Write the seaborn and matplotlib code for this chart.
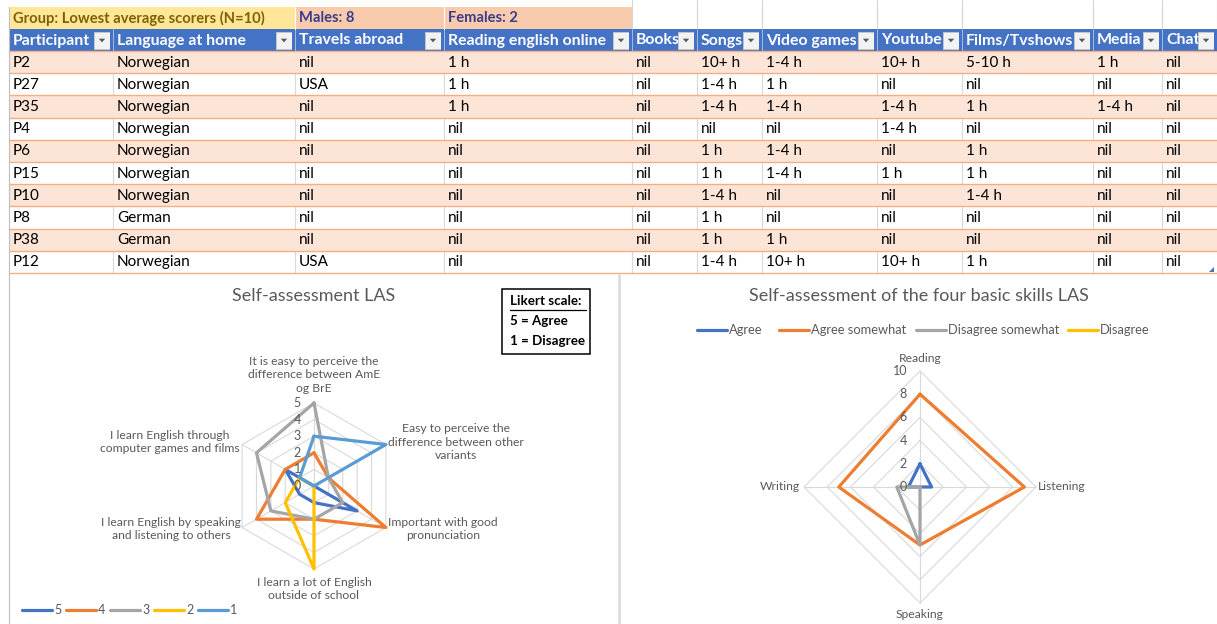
import numpy as np
import pandas as pd
import matplotlib
matplotlib.use("Agg")
import matplotlib.pyplot as plt
from matplotlib.patches import Rectangle, Polygon
import seaborn as sns

sns.set_theme(style="white")
plt.rcParams['font.family'] = ['Lato', 'DejaVu Sans']

# ---------------- table content ----------------
group_label = "Group: Lowest average scorers (N=10)"
males_label = "Males: 8"
females_label = "Females: 2"

headers = ["Participant", "Language at home", "Travels abroad", "Reading english online",
           "Books", "Songs", "Video games", "Youtube", "Films/Tvshows", "Media", "Chat"]
participants = ["P2", "P27", "P35", "P4", "P6", "P15", "P10", "P8", "P38", "P12"]
language_home = ["Norwegian", "Norwegian", "Norwegian", "Norwegian", "Norwegian",
                 "Norwegian", "Norwegian", "German", "German", "Norwegian"]
travels_abroad = ["nil", "USA", "nil", "nil", "nil", "nil", "nil", "nil", "nil", "USA"]
reading_online = ["1 h", "1 h", "1 h", "nil", "nil", "nil", "nil", "nil", "nil", "nil"]
books = ["nil", "nil", "nil", "nil", "nil", "nil", "nil", "nil", "nil", "nil"]
songs = ["10+ h", "1-4 h", "1-4 h", "nil", "1 h", "1 h", "1-4 h", "1 h", "1 h", "1-4 h"]
video_games = ["1-4 h", "1 h", "1-4 h", "nil", "1-4 h", "1-4 h", "nil", "nil", "1 h", "10+ h"]
youtube = ["10+ h", "nil", "1-4 h", "1-4 h", "nil", "1 h", "nil", "nil", "nil", "10+ h"]
films_tv = ["5-10 h", "nil", "1 h", "nil", "1 h", "1 h", "1-4 h", "nil", "nil", "1 h"]
media = ["1 h", "nil", "1-4 h", "nil", "nil", "nil", "nil", "nil", "nil", "nil"]
chat = ["nil", "nil", "nil", "nil", "nil", "nil", "nil", "nil", "nil", "nil"]

# ---------------- radar 1: Likert answers per statement ----------------
las_statements = ["It is easy to perceive the\ndifference between AmE\nog BrE",
                  "Easy to perceive the\ndifference between other\nvariants",
                  "Important with good\npronunciation",
                  "I learn a lot of English\noutside of school",
                  "I learn English by speaking\nand listening to others",
                  "I learn English through\ncomputer games and films"]
likert_levels = ["5", "4", "3", "2", "1"]
likert_5 = [0, 0, 3, 1, 1, 2]
likert_4 = [2, 1, 5, 2, 4, 2]
likert_3 = [5, 1, 2, 2, 3, 4]
likert_2 = [0, 0, 0, 5, 2, 1]
likert_1 = [3, 5, 0, 0, 0, 1]

# ---------------- radar 2: four basic skills ----------------
skills = ["Reading", "Listening", "Speaking", "Writing"]
skill_levels = ["Agree", "Agree somewhat", "Disagree somewhat", "Disagree"]
skill_agree = [2, 1, 0, 1]
skill_agree_somewhat = [8, 9, 5, 7]
skill_disagree_somewhat = [0, 0, 5, 2]
skill_disagree = [0, 0, 0, 0]

# Office palette
C_BLUE = "#4472C4"
C_ORANGE = "#ED7D31"
C_GREY = "#A5A5A5"
C_YELLOW = "#FFC000"
C_LBLUE = "#5B9BD5"
TXT_GREY = "#595959"
GRID = "#D9D9D9"

W, H = 1217, 624
fig = plt.figure(figsize=(W / 100, H / 100), dpi=100)
bg = fig.add_axes([0, 0, 1, 1], zorder=0)
bg.set_xlim(0, W)
bg.set_ylim(H, 0)
bg.axis("off")

# ---------------- spreadsheet table ----------------
col_edges = [9, 113, 295, 444, 632, 697, 762, 877, 962, 1093, 1162, 1217]
top_row = (7, 29)
head_row = (29, 51)
row0 = 51
row_h = 22.2
columns = [participants, language_home, travels_abroad, reading_online, books, songs,
           video_games, youtube, films_tv, media, chat]
cell_fs = 11.0
head_fs = 11.4
top_fs = 10.6

# group / gender cells
bg.add_patch(Rectangle((col_edges[0], top_row[0]), col_edges[2] - col_edges[0],
                       top_row[1] - top_row[0], fc="#FFE699", ec="none", zorder=1))
bg.add_patch(Rectangle((col_edges[2], top_row[0]), col_edges[3] - col_edges[2],
                       top_row[1] - top_row[0], fc="#F8CBAD", ec="none", zorder=1))
bg.add_patch(Rectangle((col_edges[3], top_row[0]), col_edges[4] - col_edges[3],
                       top_row[1] - top_row[0], fc="#F8CBAD", ec="none", zorder=1))
for x in col_edges[2:4]:
    bg.plot([x, x], [top_row[0], top_row[1]], color="#FFFFFF", lw=0.8, zorder=2)
tmid = (top_row[0] + top_row[1]) / 2
bg.text(col_edges[0] + 4, tmid, group_label, fontsize=top_fs, fontweight="bold",
        color="#806000", va="center", ha="left", zorder=3)
bg.text(col_edges[2] + 4, tmid, males_label, fontsize=top_fs, fontweight="bold",
        color="#3A3C8C", va="center", ha="left", zorder=3)
bg.text(col_edges[3] + 4, tmid, females_label, fontsize=top_fs, fontweight="bold",
        color="#3A3C8C", va="center", ha="left", zorder=3)
for x in col_edges[4:]:
    bg.plot([x, x], [0, head_row[0]], color="#D4D4D4", lw=0.8, zorder=1)

# header row
bg.add_patch(Rectangle((col_edges[0], head_row[0]), col_edges[-1] - col_edges[0],
                       head_row[1] - head_row[0], fc=C_BLUE, ec="none", zorder=1))
hmid = (head_row[0] + head_row[1]) / 2
for i, name in enumerate(headers):
    x0, x1 = col_edges[i], col_edges[i + 1]
    bg.text(x0 + 4, hmid + 0.5, name, fontsize=head_fs, fontweight="bold", color="white",
            va="center", ha="left", zorder=2)
    # filter drop-down button
    bx = x1 - 19
    bg.add_patch(Rectangle((bx, head_row[0] + 2.5), 16, 17, fc="#F2F2F2", ec="#C8C8C8",
                           lw=0.6, zorder=4))
    cx, cy = bx + 8, hmid + 0.5
    bg.add_patch(Polygon([[cx - 3.2, cy - 1.8], [cx + 3.2, cy - 1.8], [cx, cy + 1.8]],
                         closed=True, fc="#595959", ec="none", zorder=5))
    if i > 0:
        bg.plot([x0, x0], [head_row[0], head_row[1]], color="#FFFFFF", lw=0.6, alpha=0.6, zorder=3)
# cover text overflowing behind each button's right side
for i in range(len(headers)):
    x1 = col_edges[i + 1]
    bg.add_patch(Rectangle((x1 - 3, head_row[0]), 3, head_row[1] - head_row[0],
                           fc=C_BLUE, ec="none", zorder=4))

# data rows
for r in range(len(participants)):
    y0 = row0 + r * row_h
    fill = "#FCE4D6" if r % 2 == 0 else "#FFFFFF"
    bg.add_patch(Rectangle((col_edges[0], y0), col_edges[-1] - col_edges[0], row_h,
                           fc=fill, ec="none", zorder=1))
    if r % 2 == 1:
        for x in col_edges[1:-1]:
            bg.plot([x, x], [y0, y0 + row_h], color="#D9D9D9", lw=0.8, zorder=2)
    for c, col in enumerate(columns):
        bg.text(col_edges[c] + 4, y0 + row_h / 2 + 0.5, col[r], fontsize=cell_fs,
                color="black", va="center", ha="left", zorder=3)
for r in range(len(participants) + 1):
    y = row0 + r * row_h
    bg.plot([col_edges[0], col_edges[-1]], [y, y], color="#F4B084", lw=1.0, zorder=3)

# sheet / chart frame lines
bg.plot([col_edges[0], col_edges[0]], [top_row[0], H], color="#BFBFBF", lw=0.8, zorder=3)
bg.plot([619, 619], [275, H], color="#D9D9D9", lw=1.8, zorder=3)
bg.add_patch(Polygon([[1209, 272], [1214, 272], [1214, 267]], closed=True, fc=C_BLUE,
                     ec="none", zorder=4))


# ---------------- radar charts ----------------
def radar(ax, categories, series, names, colors, rings, rmax):
    n = len(categories)
    theta = np.linspace(0, 2 * np.pi, n, endpoint=False)
    theta_c = np.append(theta, 2 * np.pi)
    ax.set_theta_zero_location("N")
    ax.set_theta_direction(-1)
    ax.set_ylim(0, rmax)
    ax.grid(False)
    ax.set_xticks([])
    ax.set_yticks([])
    ax.spines["polar"].set_visible(False)
    ax.patch.set_visible(False)
    for rr in rings:
        ax.plot(theta_c, [rr] * (n + 1), color=GRID, lw=0.8, zorder=1)
    for t in theta:
        ax.plot([t, t], [0, rings[-1]], color=GRID, lw=0.8, zorder=1)
    rows = []
    for name, vals in zip(names, series):
        for t, v in zip(theta_c, list(vals) + [vals[0]]):
            rows.append((name, t, v))
    df = pd.DataFrame(rows, columns=["series", "theta", "value"])
    sns.lineplot(data=df, x="theta", y="value", hue="series", hue_order=names,
                 palette=dict(zip(names, colors)), sort=False, estimator=None,
                 lw=2.3, legend=False, ax=ax, zorder=3, clip_on=False,
                 solid_joinstyle="round", solid_capstyle="round")
    ax.set_xlabel("")
    ax.set_ylabel("")
    for rr in [0] + list(rings):
        ax.annotate(f"{rr:g}", xy=(0, rr), xytext=(-13, 0), textcoords="offset pixels",
                    ha="right", va="center", fontsize=9, color=TXT_GREY,
                    annotation_clip=False, zorder=4)


def polar_axes(cx, cy, radius_px, rmax, rtop):
    rp = radius_px * rmax / rtop
    return fig.add_axes([(cx - rp) / W, (H - cy - rp) / H, 2 * rp / W, 2 * rp / H],
                        projection="polar", zorder=2)


# left chart
L_CX, L_CY, L_R = 314, 486, 83
axL = polar_axes(L_CX, L_CY, L_R, 5.6, 5)
radar(axL, las_statements, [likert_5, likert_4, likert_3, likert_2, likert_1],
      likert_levels, [C_BLUE, C_ORANGE, C_GREY, C_YELLOW, C_LBLUE],
      [1, 2, 3, 4, 5], 5.6)

bg.text(314, 296, "Self-assessment LAS", fontsize=13, color=TXT_GREY, ha="center", va="center")
lab_kw = dict(fontsize=8.7, color=TXT_GREY, va="center", linespacing=1.3, zorder=4)
bg.text(314, 375, las_statements[0], ha="center", multialignment="center", **lab_kw)
bg.text(456, 442, las_statements[1], ha="center", multialignment="center", **lab_kw)
bg.text(443, 529, las_statements[2], ha="center", multialignment="center", **lab_kw)
bg.text(314, 589, las_statements[3], ha="center", multialignment="center", **lab_kw)
bg.text(171, 529, las_statements[4], ha="center", multialignment="center", **lab_kw)
bg.text(170, 442, las_statements[5], ha="center", multialignment="center", **lab_kw)

# Likert note box
bg.add_patch(Rectangle((502, 289), 88, 65, fc="white", ec="black", lw=1.1, zorder=4))
bg.text(510, 301, "Likert scale:", fontsize=9.6, fontweight="bold", color="black",
        ha="left", va="center", zorder=5)
bg.plot([510, 586], [309.5, 309.5], color="black", lw=0.9, zorder=5)
bg.text(510, 321, "5 = Agree", fontsize=9.6, fontweight="bold", color="black",
        ha="left", va="center", zorder=5)
bg.text(510, 341, "1 = Disagree", fontsize=9.6, fontweight="bold", color="black",
        ha="left", va="center", zorder=5)

# left legend
legL_x = [22, 66, 110, 154, 198]
for x, name, col in zip(legL_x, likert_levels, [C_BLUE, C_ORANGE, C_GREY, C_YELLOW, C_LBLUE]):
    bg.plot([x, x + 30], [610, 610], color=col, lw=2.3, solid_capstyle="round", zorder=4)
    bg.text(x + 32, 610, name, fontsize=9, color=TXT_GREY, ha="left", va="center", zorder=4)

# right chart
R_CX, R_CY, R_R = 920, 487, 116
axR = polar_axes(R_CX, R_CY, R_R, 11, 10)
radar(axR, skills, [skill_agree, skill_agree_somewhat, skill_disagree_somewhat, skill_disagree],
      skill_levels, [C_BLUE, C_ORANGE, C_GREY, C_YELLOW], [2, 4, 6, 8, 10], 11)

bg.text(919, 296, "Self-assessment of the four basic skills LAS", fontsize=13,
        color=TXT_GREY, ha="center", va="center")
bg.text(920, 358, skills[0], ha="center", **lab_kw)
bg.text(1038, 487, skills[1], ha="left", **lab_kw)
bg.text(920, 614, skills[2], ha="center", **lab_kw)
bg.text(800, 487, skills[3], ha="right", **lab_kw)

legR_x = [697, 779, 916, 1068]
for x, name, col in zip(legR_x, skill_levels, [C_BLUE, C_ORANGE, C_GREY, C_YELLOW]):
    bg.plot([x, x + 30], [330, 330], color=col, lw=2.3, solid_capstyle="round", zorder=4)
    bg.text(x + 32, 330, name, fontsize=9.3, color=TXT_GREY, ha="left", va="center", zorder=4)

fig.savefig("out.png", dpi=100)
